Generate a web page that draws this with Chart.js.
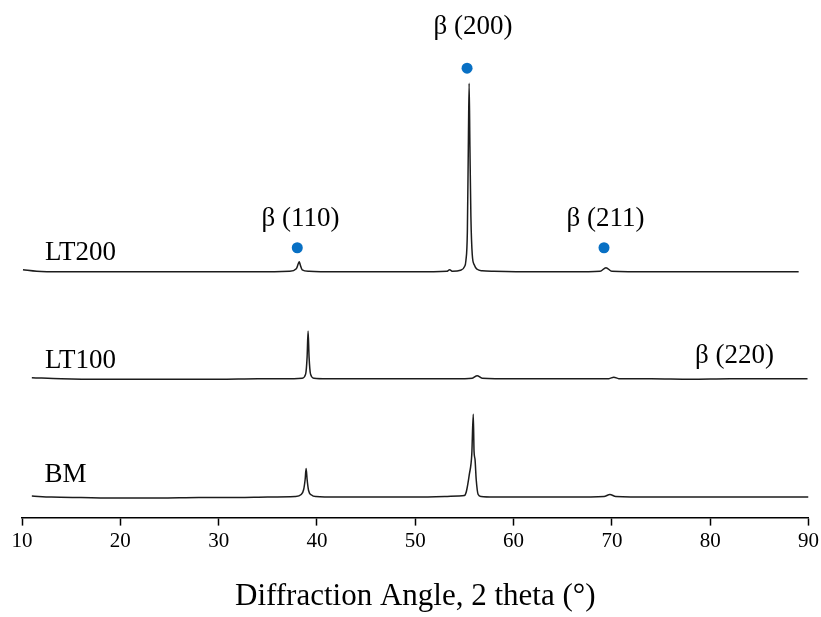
<!DOCTYPE html>
<html>
<head>
<meta charset="utf-8">
<script src="https://cdn.jsdelivr.net/npm/chart.js@4.4.1/dist/chart.umd.min.js"></script>
<style>
  html, body { margin: 0; padding: 0; background: #fff; }
</style>
</head>
<body>
<canvas id="chart" width="821" height="617"></canvas>
<script>
/* DATOS (intensidad ya desplazada para apilar las curvas) */
const bmX = [11, 13, 16, 20, 24, 28, 32, 35, 37.8, 38.4, 38.65, 38.8, 38.9, 39.0, 39.15, 39.45, 39.9, 42, 46, 50, 53, 54.4, 55.0, 55.2, 55.5, 55.75, 55.9, 55.98, 56.08, 56.2, 56.4, 56.7, 58, 62, 66, 69.2, 69.8, 70.4, 74, 78, 82, 86, 90];
const bmY = [21.5, 20.5, 20, 19.5, 19.5, 20, 20, 20.5, 21, 23, 28, 38, 49, 38, 27, 22.5, 21, 20.5, 20.5, 20.5, 21, 21.5, 22, 26, 43, 63, 103, 66, 58, 38, 23, 21, 20.5, 20.5, 20.5, 21, 23, 21, 20.5, 20.5, 20.5, 20.5, 20.5];

const lt100X = [11, 14, 18, 22, 26, 30, 34, 37, 38.5, 38.85, 39.0, 39.1, 39.2, 39.35, 39.7, 41, 45, 50, 54, 55.8, 56.3, 56.8, 60, 64, 68, 69.7, 70.2, 70.7, 74, 78, 82, 86, 89.9];
const lt100Y = [139.5, 138.5, 138, 138, 138, 138, 138.5, 138.5, 139, 143, 160, 186, 160, 143, 139, 138.5, 138.5, 138.5, 138.5, 139, 141.5, 139, 138.5, 138.5, 138.5, 138.5, 140, 138.5, 138.5, 138, 138.5, 138.5, 138.5];

const lt200X = [10.1, 11.5, 14, 18, 22, 26, 30, 34, 37.2, 37.9, 38.1, 38.2, 38.3, 38.5, 39.2, 42, 46, 50, 53.2, 53.5, 53.8, 54.6, 55.0, 55.15, 55.3, 55.4, 55.48, 55.56, 55.66, 55.8, 56.0, 56.3, 56.8, 58, 62, 66, 68.8, 69.4, 70.0, 74, 78, 82, 86, 89];
const lt200Y = [247, 245.5, 245, 245, 245, 245, 245, 245, 245.5, 248, 253, 255, 252, 247, 245.5, 245, 245, 245, 245.5, 247, 245.5, 246.5, 250, 256, 285, 370, 433, 370, 300, 262, 252, 247.5, 246, 245.5, 245, 245, 245.5, 249, 245.5, 245, 245, 245, 245, 245];

/* marcadores beta */
const markX = [38.0, 55.27, 69.2];
const markY = [269, 448, 269];

/* etiquetas */
const peakLabels = ["β (200)", "β (110)", "β (211)", "β (220)"];
const peakLabelX = [55.88, 38.33, 69.36, 82.48];
const peakLabelY = [482, 291, 291, 154];

const sampleLabels = ["LT200", "LT100", "BM"];
const sampleLabelX = [12.34, 12.34, 12.3];
const sampleLabelY = [257, 149, 35];

const xTicks = [10, 20, 30, 40, 50, 60, 70, 80, 90];

const SERIF = '"Liberation Serif", "Times New Roman", serif';

function toPoints(xs, ys) {
  return xs.map((x, i) => ({ x: x, y: ys[i] }));
}

function traceDataset(xs, ys) {
  return {
    type: "line",
    data: toPoints(xs, ys),
    borderColor: "#1c1c1c",
    borderWidth: 1.5,
    pointRadius: 0,
    fill: false,
    cubicInterpolationMode: "monotone"
  };
}

/* TEXTOS SOBRE EL GRAFICO */
const labelPlugin = {
  id: "labels",
  afterDatasetsDraw(chart) {
    const ctx = chart.ctx;
    const sx = chart.scales.x;
    const sy = chart.scales.y;
    ctx.save();
    ctx.fillStyle = "#000";
    ctx.font = "27px " + SERIF;
    ctx.textBaseline = "alphabetic";
    ctx.textAlign = "center";
    peakLabels.forEach((t, i) => {
      ctx.fillText(t, sx.getPixelForValue(peakLabelX[i]), sy.getPixelForValue(peakLabelY[i]));
    });
    ctx.textAlign = "left";
    sampleLabels.forEach((t, i) => {
      ctx.fillText(t, sx.getPixelForValue(sampleLabelX[i]), sy.getPixelForValue(sampleLabelY[i]));
    });
    ctx.restore();
  }
};

new Chart(document.getElementById("chart"), {
  type: "scatter",
  data: {
    datasets: [
      traceDataset(bmX, bmY),
      traceDataset(lt100X, lt100Y),
      traceDataset(lt200X, lt200Y),
      {
        type: "scatter",
        data: toPoints(markX, markY),
        pointRadius: 5.5,
        pointBackgroundColor: "#0870c4",
        pointBorderWidth: 0,
        showLine: false
      }
    ]
  },
  options: {
    responsive: false,
    animation: false,
    layout: { padding: { top: 16, left: 22, right: 12.5, bottom: 2 } },
    plugins: {
      legend: { display: false },
      tooltip: { enabled: false }
    },
    scales: {
      x: {
        type: "linear",
        min: 10,
        max: 90,
        afterBuildTicks(scale) {
          scale.ticks = xTicks.map(v => ({ value: v }));
        },
        afterFit(scale) {
          // the outer labels fit inside the layout padding
          scale.paddingLeft = 0;
          scale.paddingRight = 0;
        },
        ticks: {
          color: "#000",
          padding: 3,
          font: { family: SERIF, size: 21 },
          maxRotation: 0
        },
        grid: {
          display: true,
          drawOnChartArea: false,
          drawTicks: true,
          tickLength: 8,
          tickWidth: 1.5,
          tickColor: "#000"
        },
        border: { display: true, color: "#000", width: 1.5 },
        title: {
          display: true,
          text: "Diffraction Angle, 2 theta (°)",
          color: "#000",
          font: { family: SERIF, size: 31 },
          padding: { top: 21, bottom: 0 }
        }
      },
      y: {
        display: false,
        min: 0,
        max: 500
      }
    }
  },
  plugins: [labelPlugin]
});
</script>
</body>
</html>
